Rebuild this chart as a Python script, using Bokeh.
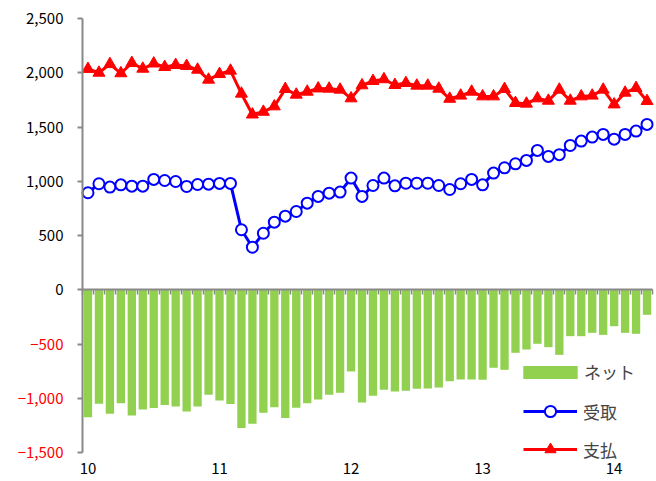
from bokeh.plotting import figure
from bokeh.models import (LinearAxis, FixedTicker, Range1d, Legend, LegendItem,
                          CustomJSTickFormatter)
from bokeh.embed import file_html
from bokeh.resources import INLINE

# ---- data (monthly, Jan 2010 - Apr 2014) ----
months = list(range(52))
year_ticks = [0, 12, 24, 36, 48]
year_labels = ["10", "11", "12", "13", "14"]

receipts = [894, 977, 946, 967, 955, 955, 1017, 1007, 998, 952, 970, 973, 980, 980,
            553, 392, 521, 623, 678, 721, 798, 860, 890, 900, 1029, 860, 961, 1029,
            958, 982, 982, 982, 961, 924, 977, 1017, 967, 1075, 1124, 1161, 1192,
            1284, 1229, 1245, 1330, 1370, 1407, 1432, 1388, 1432, 1462, 1524]

payments = [2035, 2000, 2080, 1995, 2090, 2037, 2085, 2053, 2071, 2062, 2028, 1936,
            1988, 2019, 1807, 1615, 1640, 1690, 1850, 1798, 1825, 1855, 1853, 1844,
            1764, 1884, 1924, 1940, 1887, 1905, 1881, 1881, 1853, 1760, 1789, 1825,
            1782, 1782, 1850, 1721, 1715, 1764, 1742, 1844, 1742, 1782, 1789, 1844,
            1708, 1816, 1859, 1739]

net = [-1174, -1051, -1143, -1045, -1158, -1103, -1091, -1063, -1075, -1121, -1075,
       -968, -1020, -1054, -1275, -1235, -1134, -1082, -1183, -1088, -1045, -1011,
       -968, -950, -753, -1039, -977, -922, -937, -931, -913, -910, -900, -843, -827,
       -827, -830, -719, -738, -581, -551, -498, -529, -600, -428, -428, -397, -416,
       -336, -397, -406, -231]

y_ticks = [-1500, -1000, -500, 0, 500, 1000, 1500, 2000, 2500]
neg_ticks = [v for v in y_ticks if v < 0]
Y_MIN, Y_MAX = -1500, 2500
X_MIN, X_MAX = -0.5, 51.5

FONT = "Noto Sans CJK JP"
AXIS_GRAY = "#898989"

# Plot area spans the whole canvas; axes are pinned at the data edges so that
# tick labels and the legend stay inside the drawable region.
W, H = 656, 481
left_px, right_px, top_px, bottom_px = 82, 4, 18, 29
px_x = (W - left_px - right_px) / (X_MAX - X_MIN)
px_y = (H - top_px - bottom_px) / (Y_MAX - Y_MIN)
x_range = Range1d(X_MIN - left_px / px_x, X_MAX + right_px / px_x)
y_range = Range1d(Y_MIN - bottom_px / px_y, Y_MAX + top_px / px_y)

p = figure(width=W, height=H, x_range=x_range, y_range=y_range,
           output_backend="svg", toolbar_location=None,
           x_axis_location=None, y_axis_location=None,
           min_border_left=0, min_border_right=0, min_border_top=0, min_border_bottom=0)
p.outline_line_color = None
p.xgrid.visible = False
p.ygrid.visible = False

# bars
bars = p.vbar(x=months, top=net, bottom=0, width=0.76, fill_color="#92D050", line_color=None)

# lines
red_line = p.line(months, payments, line_color="#FF0000", line_width=3)
red_pts = p.scatter(months, payments, marker="triangle", size=12, fill_color="#FF0000",
                    line_color="#FF0000")
blue_line = p.line(months, receipts, line_color="#0000FF", line_width=3)
blue_pts = p.scatter(months, receipts, marker="circle", size=11, fill_color="white",
                     line_color="#0000FF", line_width=2)


def style_ticks(ax, out=5):
    ax.major_tick_out = out
    ax.major_tick_in = 0
    ax.minor_tick_out = 0
    ax.minor_tick_in = 0


# left axis (black labels for non-negative values)
yaxis = LinearAxis(fixed_location=X_MIN, bounds=(Y_MIN, Y_MAX), ticker=FixedTicker(ticks=y_ticks),
                   major_label_overrides={v: (f"{v:,}" if v >= 0 else "") for v in y_ticks})
yaxis.axis_line_color = AXIS_GRAY
yaxis.axis_line_width = 2
yaxis.major_tick_line_color = AXIS_GRAY
yaxis.major_tick_line_width = 2
style_ticks(yaxis)
yaxis.major_label_standoff = 14
yaxis.major_label_text_font = FONT
yaxis.major_label_text_font_size = "15px"
yaxis.major_label_text_color = "black"
p.add_layout(yaxis, "left")

# red labels for negative values
naxis = LinearAxis(fixed_location=X_MIN, ticker=FixedTicker(ticks=neg_ticks),
                   major_label_overrides={v: f"\u2212{abs(v):,}" for v in neg_ticks})
naxis.axis_line_color = None
naxis.major_tick_line_color = None
naxis.minor_tick_line_color = None
style_ticks(naxis)
naxis.major_label_standoff = 14
naxis.major_label_text_font = FONT
naxis.major_label_text_font_size = "15px"
naxis.major_label_text_color = "#FF0000"
p.add_layout(naxis, "left")

# zero axis with category separators
zaxis = LinearAxis(fixed_location=0, bounds=(X_MIN, X_MAX),
                   ticker=FixedTicker(ticks=[m - 0.5 for m in months] + [X_MAX]),
                   formatter=CustomJSTickFormatter(code="return ''"))
zaxis.axis_line_color = AXIS_GRAY
zaxis.axis_line_width = 2
zaxis.major_tick_line_color = AXIS_GRAY
zaxis.major_tick_line_width = 1.5
style_ticks(zaxis)
p.add_layout(zaxis, "below")

# bottom year labels
xaxis = LinearAxis(fixed_location=Y_MIN, ticker=FixedTicker(ticks=year_ticks),
                   major_label_overrides={t: l for t, l in zip(year_ticks, year_labels)})
xaxis.axis_line_color = None
xaxis.major_tick_line_color = None
xaxis.minor_tick_line_color = None
style_ticks(xaxis, 0)
xaxis.major_label_standoff = 10
xaxis.major_label_text_font = FONT
xaxis.major_label_text_font_size = "15px"
xaxis.major_label_text_color = "black"
p.add_layout(xaxis, "below")

# legends
leg1 = Legend(items=[LegendItem(label="ネット", renderers=[bars])], location=(516, 97))
leg1.glyph_width = 68
leg1.glyph_height = 16
leg1.label_height = 16
leg1.label_standoff = 0

leg2 = Legend(items=[LegendItem(label="受取", renderers=[blue_line, blue_pts]),
                     LegendItem(label="支払", renderers=[red_line, red_pts])],
              location=(523, 18))
leg2.glyph_width = 54
leg2.glyph_height = 28
leg2.label_height = 28
leg2.spacing = 10
leg2.label_standoff = 6

for lg in (leg1, leg2):
    lg.padding = 0
    lg.margin = 0
    lg.label_text_font = FONT
    lg.label_text_font_size = "17px"
    lg.border_line_color = None
    lg.background_fill_alpha = 0
    p.add_layout(lg)

open("out.html", "w").write(file_html(p, INLINE))
